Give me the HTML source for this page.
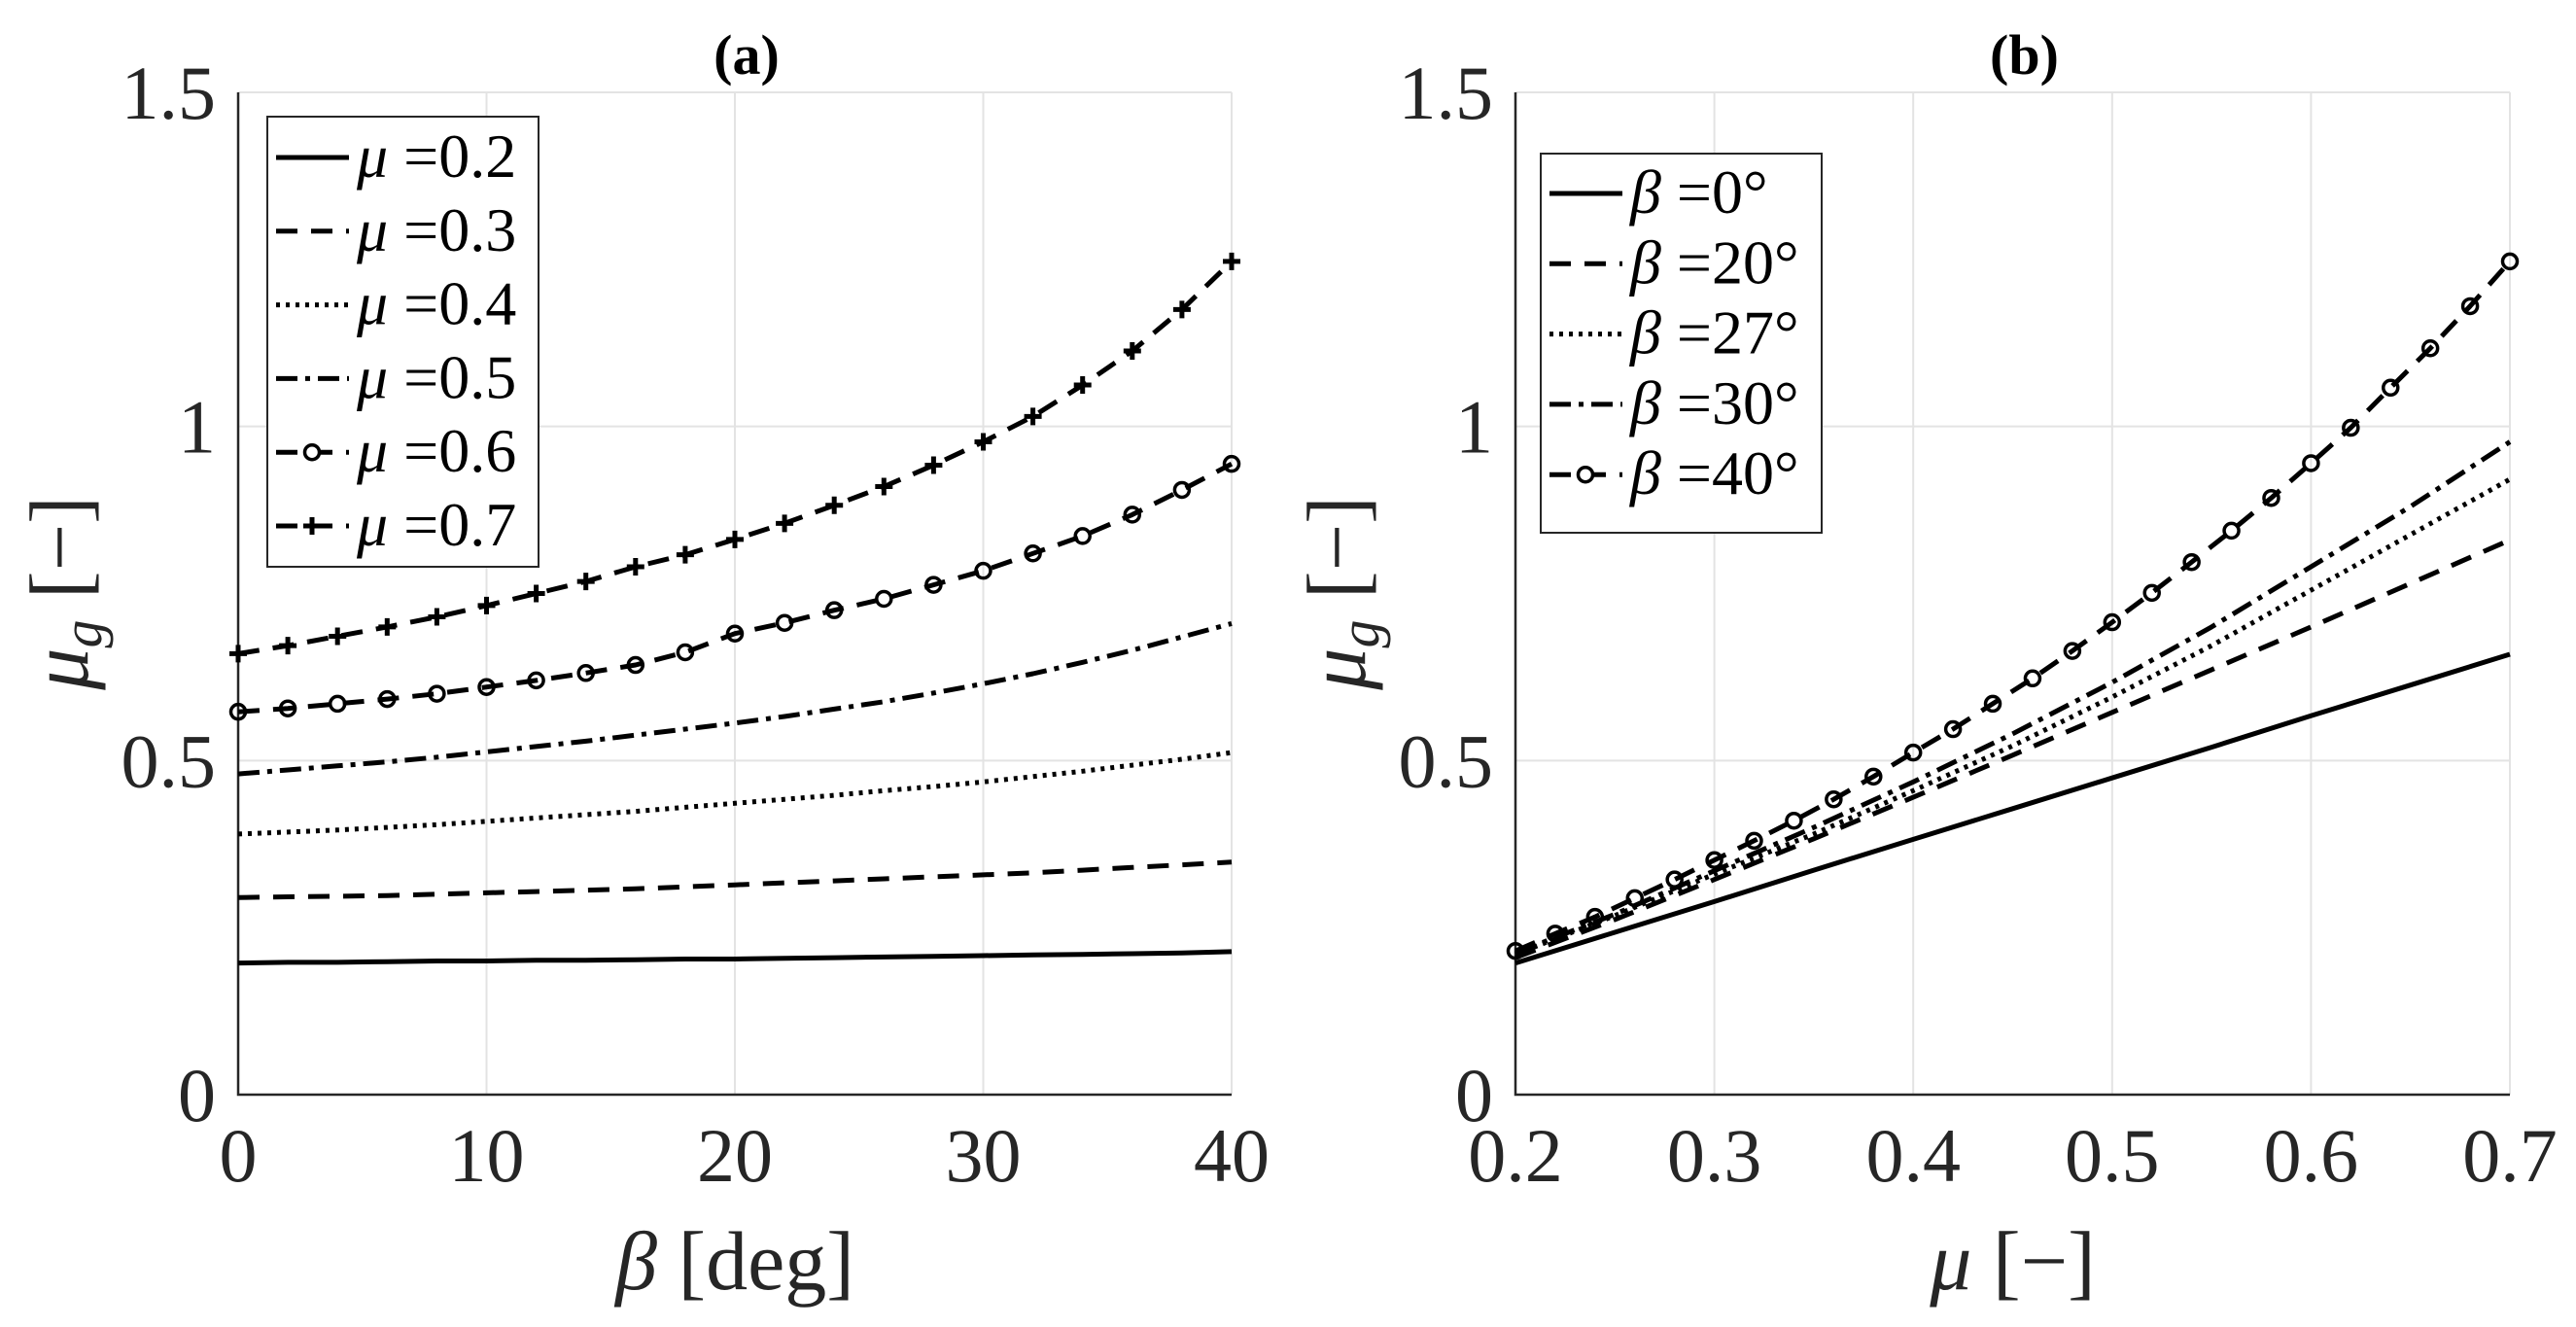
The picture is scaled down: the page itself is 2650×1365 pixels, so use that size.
<!DOCTYPE html>
<html><head><meta charset="utf-8"><style>
html,body{margin:0;padding:0;background:#fff;}
svg{display:block;}
svg text{font-family:"Liberation Serif","DejaVu Serif",serif;}
</style></head><body>
<svg id="fig" width="2650" height="1365" viewBox="0 0 2650 1365" xmlns="http://www.w3.org/2000/svg" font-family="Liberation Serif, DejaVu Serif, serif"></svg>
<script>
// ---- Panel (a) data ----
const betaA = [0,2,4,6,8,10,12,14,16,18,20,22,24,26,28,30,32,34,36,38,40];
const a02 = [.197,.198,.198,.199,.200,.200,.201,.201,.202,.203,.203,.204,.205,.206,.207,.208,.209,.210,.211,.212,.214];
const a03 = [.295,.296,.297,.298,.300,.302,.304,.306,.308,.311,.314,.317,.320,.323,.326,.329,.332,.336,.340,.344,.348];
const a04 = [.390,.393,.396,.400,.404,.409,.414,.419,.424,.430,.436,.442,.448,.455,.461,.468,.476,.484,.493,.502,.512];
const a05 = [.480,.486,.492,.498,.505,.513,.521,.529,.538,.547,.556,.566,.577,.588,.601,.615,.630,.647,.665,.685,.705];
const a06 = [.573,.578,.585,.592,.600,.610,.620,.631,.643,.662,.690,.706,.725,.742,.763,.784,.810,.836,.868,.905,.944];
const a07 = [.660,.672,.686,.700,.715,.732,.750,.768,.790,.808,.831,.855,.882,.910,.942,.977,1.015,1.062,1.113,1.175,1.247];
const labelsA = ["0.2","0.3","0.4","0.5","0.6","0.7"];
// ---- Panel (b) data ----
const muB = [.20,.25,.30,.35,.40,.45,.50,.55,.60,.65,.70];
const b0 = [.197,.243,.289,.336,.382,.428,.474,.520,.567,.613,.659];
const b20 = [.205,.262,.322,.383,.445,.508,.572,.636,.700,.765,.830];
const b27 = [.210,.268,.330,.390,.455,.522,.595,.672,.755,.838,.921];
const b30 = [.212,.270,.335,.400,.468,.540,.617,.700,.790,.880,.977];
const muB40 = [.20,.22,.24,.26,.28,.30,.32,.34,.36,.38,.40,.42,.44,.46,.48,.50,.52,.54,.56,.58,.60,.62,.64,.66,.68,.70];
const b40 = [.215,.241,.266,.294,.322,.351,.380,.410,.442,.476,.512,.547,.585,.623,.664,.707,.751,.797,.844,.893,.945,.998,1.058,1.117,1.180,1.247];
const labelsB = ["0°","20°","27°","30°","40°"];
const yTicks = [0,0.5,1,1.5];
const yTickLabels = ["0","0.5","1","1.5"];
const xTicksA = [0,10,20,30,40];
const xTicksB = [0.2,0.3,0.4,0.5,0.6,0.7];
const xTickLabelsB = ["0.2","0.3","0.4","0.5","0.6","0.7"];

const NS="http://www.w3.org/2000/svg";
const svg=document.getElementById('fig');
const FF='"Liberation Serif", "DejaVu Serif", serif';
function mk(tag,attrs,parent){const e=document.createElementNS(NS,tag);for(const k in attrs)e.setAttribute(k,attrs[k]);if(tag==='text')e.style.fontFamily=FF;(parent||svg).appendChild(e);return e;}

const styles={
 solid:{da:null},
 dash:{da:"22 14"},
 dot:{da:"4 6"},
 dashdot:{da:"22 8 5 8"}
};

function panel(P){
  const {L,R,T,B,xmin,xmax}=P;
  const g=mk('g',{});
  
  
  const sx=v=>L+(v-xmin)/(xmax-xmin)*(R-L);
  const sy=v=>B-(v-0)/(1.5-0)*(B-T);
  P.xt.forEach((t,i)=>{
    const l=mk('line',{x1:sx(t),x2:sx(t),y1:T,y2:B,stroke:'#e3e3e3','stroke-width':2},g);
    
    
    const tx=mk('text',{x:sx(t),y:1215,'font-size':78,'text-anchor':'middle',fill:'#262626'},g);
    tx.textContent=P.xtl[i];
    
    
  });
  yTicks.forEach((t,i)=>{
    const l=mk('line',{x1:L,x2:R,y1:sy(t),y2:sy(t),stroke:'#e3e3e3','stroke-width':2},g);
    
    
    const tx=mk('text',{x:L-23,y:sy(t)+27,'font-size':78,'text-anchor':'end',fill:'#262626'},g);
    tx.textContent=yTickLabels[i];
    
    
  });
  const ax=mk('path',{d:`M${L},${T}V${B}H${R}`,fill:'none',stroke:'#262626','stroke-width':2.5},g);
  
  
  P.series.forEach(s=>{
    const d=s.x.map((v,i)=>(i?'L':'M')+sx(v).toFixed(1)+','+sy(s.y[i]).toFixed(1)).join('');
    const at={d:d,fill:'none',stroke:'#000','stroke-width':5,'stroke-linejoin':'round'};
    if(styles[s.st].da)at['stroke-dasharray']=styles[s.st].da;
    const p=mk('path',at,g);
    
    
    if(s.mk){
      s.x.forEach((v,i)=>{
        const cx=sx(v),cy=sy(s.y[i]);
        let m;
        if(s.mk==='o') m=mk('circle',{cx:cx,cy:cy,r:7.5,fill:'none',stroke:'#000','stroke-width':3.5},g);
        else m=mk('path',{d:`M${cx-9},${cy}H${cx+9}M${cx},${cy-9}V${cy+9}`,stroke:'#000','stroke-width':5},g);
        
        
      });
    }
  });
  const lg=mk('g',{},g);
  
  
  mk('rect',{x:P.lg.x,y:P.lg.y,width:P.lg.w,height:P.lg.h,fill:'#fff',stroke:'#262626','stroke-width':2},lg);
  P.series.forEach((s,i)=>{
    const y=P.lg.y0+i*P.lg.dy;
    const e=mk('g',{},lg);
    
    
    const at={x1:P.lg.x+9,x2:P.lg.x+84,y1:y,y2:y,stroke:'#000','stroke-width':5};
    if(styles[s.st].da)at['stroke-dasharray']=styles[s.st].da;
    mk('line',at,e);
    const cx=P.lg.x+46;
    if(s.mk==='o')mk('circle',{cx:cx,cy:y,r:7.5,fill:'#fff',stroke:'#000','stroke-width':3.5},e);
    if(s.mk==='+')mk('path',{d:`M${cx-9},${y}H${cx+9}M${cx},${y-9}V${y+9}`,stroke:'#000','stroke-width':5},e);
    const t=mk('text',{x:P.lg.x+92,y:y+20,'font-size':64,fill:'#000'},e);
    const t1=mk('tspan',{'font-style':'italic'},t);t1.textContent=P.sym;
    const t2=mk('tspan',{},t);t2.textContent=' ='+s.label;
  });
  const ti=mk('text',{x:(L+R)/2+12,y:76,'font-size':58,'font-weight':'bold','text-anchor':'middle',fill:'#000'},g);
  ti.textContent=P.title;
  
  
  const xl=mk('text',{x:(L+R)/2,y:1326,'font-size':86,'text-anchor':'middle',fill:'#262626'},g);
  const xa=mk('tspan',{'font-style':'italic'},xl);xa.textContent=P.xsym;
  const xb=mk('tspan',{},xl);xb.textContent='  '+P.xunit;
  
  
  const yl=mk('text',{x:0,y:0,'font-size':86,'text-anchor':'middle',fill:'#262626',transform:`translate(${L-155},610) rotate(-90)`},g);
  const ya=mk('tspan',{'font-style':'italic'},yl);ya.textContent='μ';
  const yb=mk('tspan',{'font-style':'italic','font-size':58,dy:14},yl);yb.textContent='g';
  const yc=mk('tspan',{dy:-14},yl);yc.textContent='  [−]';
  
  
}

panel({name:'panel-a',L:245,R:1267,T:95,B:1126,xmin:0,xmax:40,xt:xTicksA,xtl:xTicksA.map(String),
  title:'(a)',xsym:'β',xunit:'[deg]',sym:'μ',
  lg:{x:275,y:120,w:279,h:463,y0:162,dy:75.8},
  series:[
   {x:betaA,y:a02,st:'solid',label:labelsA[0]},
   {x:betaA,y:a03,st:'dash',label:labelsA[1]},
   {x:betaA,y:a04,st:'dot',label:labelsA[2]},
   {x:betaA,y:a05,st:'dashdot',label:labelsA[3]},
   {x:betaA,y:a06,st:'dash',mk:'o',label:labelsA[4]},
   {x:betaA,y:a07,st:'dash',mk:'+',label:labelsA[5]}]});
panel({name:'panel-b',L:1559,R:2582,T:95,B:1126,xmin:0.2,xmax:0.7,xt:xTicksB,xtl:xTickLabelsB,
  title:'(b)',xsym:'μ',xunit:'[−]',sym:'β',
  lg:{x:1585,y:158,w:289,h:390,y0:199,dy:72.3},
  series:[
   {x:muB,y:b0,st:'solid',label:labelsB[0]},
   {x:muB,y:b20,st:'dash',label:labelsB[1]},
   {x:muB,y:b27,st:'dot',label:labelsB[2]},
   {x:muB,y:b30,st:'dashdot',label:labelsB[3]},
   {x:muB40,y:b40,st:'dash',mk:'o',label:labelsB[4]}]});
</script>
</body></html>
